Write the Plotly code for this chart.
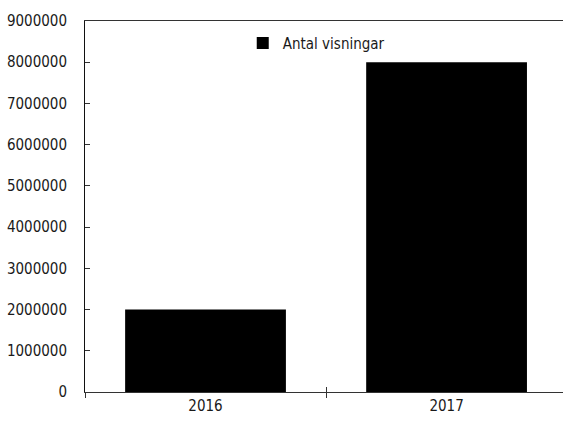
import plotly.graph_objects as go

years = ["2016", "2017"]
views = [2000000, 8000000]
series_name = "Antal visningar"
y_ticks = [0, 1000000, 2000000, 3000000, 4000000, 5000000, 6000000, 7000000, 8000000, 9000000]

FONT = "DejaVu Sans Condensed, Liberation Sans Narrow, sans-serif"

fig = go.Figure()
fig.add_trace(go.Bar(x=years, y=views, name=series_name, marker=dict(color="black", line=dict(width=0))))
# invisible twin, only to draw the upward part of the category boundary ticks
fig.add_trace(go.Bar(x=years, y=views, xaxis="x2", showlegend=False, hoverinfo="skip",
                     marker=dict(color="rgba(0,0,0,0)", line=dict(width=0))))

fig.update_layout(
    width=563, height=423,
    margin=dict(l=85, r=0, t=21, b=31, autoexpand=False),
    paper_bgcolor="white", plot_bgcolor="white",
    font=dict(family=FONT, size=15, color="#1a1a1a"),
    bargap=0.333,
    showlegend=True,
    legend=dict(x=0.33, y=0.94, xanchor="left", yanchor="middle",
                bgcolor="rgba(0,0,0,0)", font=dict(size=15)),
    xaxis=dict(
        type="category", range=[-0.5, 1.483], automargin=False,
        showline=True, linecolor="#333333", linewidth=1, mirror=True,
        ticks="outside", ticklen=5, tickcolor="#333333", tickson="boundaries",
        showgrid=False, zeroline=False,
    ),
    xaxis2=dict(
        type="category", range=[-0.5, 1.483], overlaying="x", matches="x", automargin=False,
        ticks="inside", ticklen=5, tickcolor="#333333", tickson="boundaries",
        showticklabels=False, showline=False, showgrid=False, zeroline=False,
    ),
    yaxis=dict(
        range=[0, 9000000], tickvals=y_ticks, tickformat=".0f", automargin=False,
        showline=True, linecolor="#111111", linewidth=1,
        ticks="inside", ticklen=5, tickcolor="#333333",
        ticklabelstandoff=14,
        showgrid=False, zeroline=False,
    ),
)

fig.write_html(
    "out.html",
    config={"displayModeBar": False},
    post_script="document.body.style.margin='0';document.body.style.overflow='hidden';",
)
